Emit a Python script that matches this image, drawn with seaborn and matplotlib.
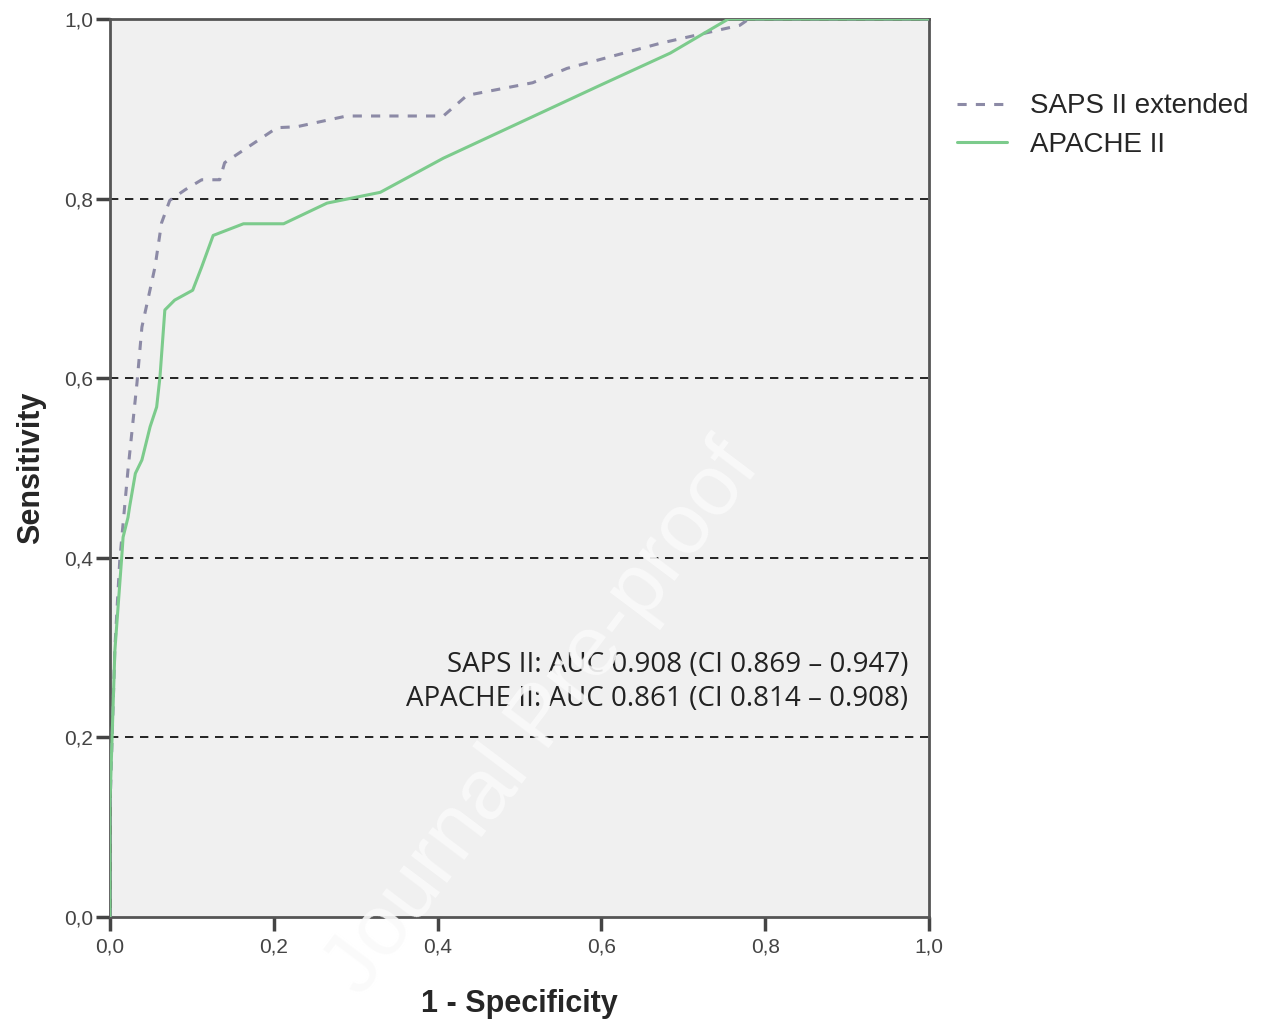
import numpy as np
import pandas as pd
import matplotlib
matplotlib.use("Agg")
import matplotlib.pyplot as plt
import seaborn as sns
from matplotlib.ticker import FuncFormatter

# ROC points (1 - specificity, sensitivity)
saps_fpr = [0.0, 0.0, 0.006, 0.012, 0.022, 0.033, 0.039, 0.055, 0.063, 0.073, 0.092, 0.112,
            0.134, 0.14, 0.204, 0.228, 0.289, 0.407, 0.436, 0.516, 0.558, 0.672, 0.769, 0.78, 1.0]
saps_tpr = [0.0, 0.12, 0.30, 0.398, 0.498, 0.595, 0.657, 0.724, 0.773, 0.798, 0.81, 0.821,
            0.821, 0.84, 0.879, 0.88, 0.892, 0.892, 0.915, 0.929, 0.945, 0.973, 0.993, 1.0, 1.0]

apache_fpr = [0.0, 0.0, 0.006, 0.015, 0.016, 0.022, 0.024, 0.031, 0.039, 0.049, 0.057, 0.061,
              0.067, 0.079, 0.101, 0.112, 0.126, 0.163, 0.212, 0.265, 0.330, 0.407, 0.598,
              0.684, 0.755, 1.0]
apache_tpr = [0.0, 0.127, 0.297, 0.409, 0.423, 0.445, 0.457, 0.494, 0.509, 0.546, 0.568, 0.601,
              0.676, 0.687, 0.698, 0.724, 0.759, 0.772, 0.772, 0.795, 0.807, 0.845, 0.926,
              0.962, 1.0, 1.0]

series_names = ["SAPS II extended", "APACHE II"]
auc_lines = ["SAPS II: AUC 0.908 (CI 0.869 \u2013 0.947)",
             "APACHE II: AUC 0.861 (CI 0.814 \u2013 0.908)"]
ref_lines = [0.2, 0.4, 0.6, 0.8]

df = pd.concat([
    pd.DataFrame({"fpr": saps_fpr, "tpr": saps_tpr, "model": series_names[0]}),
    pd.DataFrame({"fpr": apache_fpr, "tpr": apache_tpr, "model": series_names[1]}),
])

sns.set_theme(style="ticks")
plt.rcParams["font.family"] = ["Liberation Sans", "DejaVu Sans"]

fig = plt.figure(figsize=(12.64, 10.27), dpi=100)
ax = fig.add_axes([0.087, 0.107, 0.648, 0.8745])
ax.set_facecolor("#f0f0f0")

sns.lineplot(data=df, x="fpr", y="tpr", hue="model", style="model", sort=False,
             estimator=None, units="model",
             palette={series_names[0]: "#8c8aa6", series_names[1]: "#7ccb8c"},
             dashes={series_names[0]: (3, 3), series_names[1]: ""},
             linewidth=2.2, ax=ax, zorder=3)
handles, labels = ax.get_legend_handles_labels()
ax.get_legend().remove()

for yv in ref_lines:
    ax.axhline(yv, color="black", linestyle=(0, (5, 4)), linewidth=1.2, zorder=2)

ax.set_xlim(0, 1)
ax.set_ylim(0, 1)
ax.set_xticks(np.arange(0, 1.01, 0.2))
ax.set_yticks(np.arange(0, 1.01, 0.2))
fmt = FuncFormatter(lambda v, p: f"{v:.1f}".replace(".", ","))
ax.xaxis.set_major_formatter(fmt)
ax.yaxis.set_major_formatter(fmt)
ax.tick_params(axis="both", direction="out", length=10, width=2.5, color="#444444",
               labelsize=15, labelcolor="#444444", pad=2)
ax.tick_params(axis="x", pad=5)
for s in ax.spines.values():
    s.set_linewidth(2)
    s.set_color("#555555")

ax.set_xlabel("1 - Specificity", fontsize=22, fontweight="bold", labelpad=23)
ax.set_ylabel("Sensitivity", fontsize=22, fontweight="bold", labelpad=13)

ax.text(0.975, 0.262, auc_lines[0] + "\n" + auc_lines[1], transform=ax.transAxes,
        ha="right", va="center", multialignment="right", fontsize=20,
        family=["Open Sans", "DejaVu Sans"], color="#222222", linespacing=1.3, zorder=4)

# faint "Journal Pre-proof" watermark
fig.text(0.43, 0.30, "Journal Pre-proof", rotation=53, ha="center", va="center",
         fontsize=62, color="#fafafa", alpha=0.9, zorder=10)

fig.legend(handles, labels, loc="upper left", bbox_to_anchor=(0.757, 0.909), frameon=False,
           fontsize=20, handlelength=1.8, labelspacing=0.45, handletextpad=0.85,
           borderpad=0, borderaxespad=0)

fig.savefig("out.png", dpi=100)
